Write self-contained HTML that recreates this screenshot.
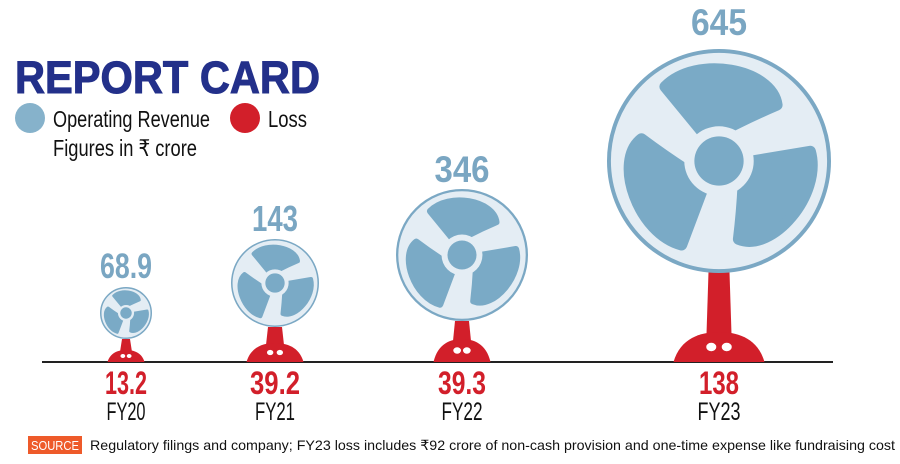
<!DOCTYPE html>
<html><head><meta charset="utf-8"><style>
html,body{margin:0;padding:0;background:#fff;width:900px;height:464px;overflow:hidden}
svg{display:block}
.c{font-family:"Liberation Sans",sans-serif;font-weight:bold}
.n{font-family:"Liberation Sans","Noto Sans CJK SC",sans-serif}
</style></head><body>
<svg id="s" width="900" height="464" viewBox="0 0 900 464" xmlns="http://www.w3.org/2000/svg">
<text x="15" y="93" font-family="Liberation Sans,sans-serif" font-weight="bold" font-size="45" fill="#23308a" textLength="305" lengthAdjust="spacingAndGlyphs" stroke="#23308a" stroke-width="1">REPORT CARD</text>
<circle cx="30" cy="118" r="15" fill="#86b2cb"/>
<text class="n" x="53" y="127" font-size="23" fill="#111" textLength="157" lengthAdjust="spacingAndGlyphs">Operating Revenue</text>
<circle cx="245" cy="118" r="15" fill="#d21f2a"/>
<text class="n" x="268" y="127" font-size="23" fill="#111" textLength="39" lengthAdjust="spacingAndGlyphs">Loss</text>
<text class="n" x="53" y="156" font-size="23" fill="#111" textLength="144" lengthAdjust="spacingAndGlyphs">Figures in ₹ crore</text>
<line x1="42" y1="362" x2="833" y2="362" stroke="#222" stroke-width="2"/>
<g id="fans"></g>
<rect x="28" y="436" width="54" height="18" fill="#ee5a2a"/>
<text x="31" y="450" font-family="Liberation Sans,sans-serif" font-size="13" fill="#fff" textLength="48" lengthAdjust="spacingAndGlyphs">SOURCE</text>
<text x="90" y="450" font-family="Liberation Sans,sans-serif" font-size="14" fill="#111" textLength="805" lengthAdjust="spacingAndGlyphs">Regulatory filings and company; FY23 loss includes ₹92 crore of non-cash provision and one-time expense like fundraising cost</text>
</svg>
<script>
const fans=[
 {cx:126,cy:313,r:26,stemTop:339,baseW:37,baseH:12,stemW:8,val:"68.9",vw:52,vy:278,vfs:35,loss:"13.2",lw:42,fy:"FY20",fw:39},
 {cx:275,cy:283,r:44,stemTop:327,baseW:57,baseH:19,stemW:14,val:"143",vw:46,vy:231,vfs:36,loss:"39.2",lw:50,fy:"FY21",fw:40},
 {cx:462,cy:255,r:66,stemTop:321,baseW:57,baseH:23,stemW:14,val:"346",vw:55,vy:182,vfs:37,loss:"39.3",lw:48,fy:"FY22",fw:41},
 {cx:719,cy:161,r:112,stemTop:272,baseW:91,baseH:30,stemW:21,val:"645",vw:56,vy:35,vfs:37,loss:"138",lw:40,fy:"FY23",fw:43}
];
function P(cx,cy,R,rr,deg){const a=deg*Math.PI/180;return [(cx+R*rr*Math.cos(a)).toFixed(1),(cy+R*rr*Math.sin(a)).toFixed(1)].join(",");}
let h="";
for(const f of fans){
 const {cx,cy,r}=f, base=362;
 const bt=base-f.baseH;
 h+=`<path d="M${cx-f.stemW/2},${f.stemTop} L${cx+f.stemW/2},${f.stemTop} L${cx+f.stemW/2+2},${bt+2} L${cx-f.stemW/2-2},${bt+2}Z" fill="#d21f2a"/>`;
 const w=f.baseW/2;
 h+=`<path d="M${cx-w},${base} C${cx-w+w*0.15},${bt+f.baseH*0.2} ${cx-w*0.4},${bt} ${cx},${bt} C${cx+w*0.4},${bt} ${cx+w-w*0.15},${bt+f.baseH*0.2} ${cx+w},${base}Z" fill="#d21f2a"/>`;
 const dr=Math.max(2,f.baseH*0.14), dy=bt+f.baseH*0.5;
 h+=`<ellipse cx="${cx-w*0.17}" cy="${dy}" rx="${dr*1.2}" ry="${dr}" fill="#fff"/><ellipse cx="${cx+w*0.17}" cy="${dy}" rx="${dr*1.2}" ry="${dr}" fill="#fff"/>`;
 const sw=Math.max(1.5,r*0.035);
 h+=`<circle cx="${cx}" cy="${cy}" r="${r-sw/2}" fill="#e4edf4" stroke="#7ba8c4" stroke-width="${sw}"/>`;
 for(const a of [-90,30,150]){
  h+=`<path d="M${P(cx,cy,r,0.3,a-30)} L${P(cx,cy,r,0.82,a-36)} C${P(cx,cy,r,0.97,a-12)} ${P(cx,cy,r,0.95,a+30)} ${P(cx,cy,r,0.72,a+46)} Q${P(cx,cy,r,0.5,a+36)} ${P(cx,cy,r,0.3,a+14)}Z" fill="#7aaac6" stroke="#7aaac6" stroke-width="${r*0.1}" stroke-linejoin="round"/>`;
 }
 h+=`<circle cx="${cx}" cy="${cy}" r="${r*0.31}" fill="#e4edf4"/><circle cx="${cx}" cy="${cy}" r="${r*0.22}" fill="#7aaac6"/>`;
 h+=`<text class="c" x="${cx-f.vw/2}" y="${f.vy}" font-size="${f.vfs}" fill="#7aa6c2" textLength="${f.vw}" lengthAdjust="spacingAndGlyphs">${f.val}</text>`;
 h+=`<text class="c" x="${cx-f.lw/2}" y="394" font-size="32" fill="#d21f2a" textLength="${f.lw}" lengthAdjust="spacingAndGlyphs">${f.loss}</text>`;
 h+=`<text class="n" x="${cx-f.fw/2}" y="420" font-size="25" fill="#111" textLength="${f.fw}" lengthAdjust="spacingAndGlyphs">${f.fy}</text>`;
}
document.getElementById("fans").innerHTML=h;
</script>
</body></html>
